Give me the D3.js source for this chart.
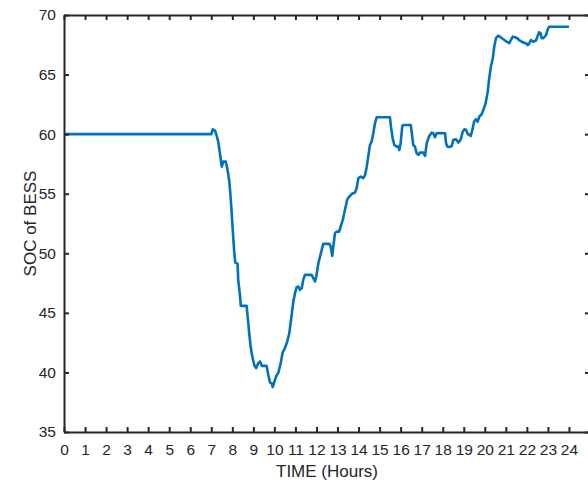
<!DOCTYPE html>
<html>
<head>
<meta charset="utf-8">
<script src="https://cdn.jsdelivr.net/npm/d3@7"></script>
<style>
  body { margin: 0; background: #fff; }
  svg { display: block; }
  text { font-family: "Liberation Sans", Arial, Helvetica, sans-serif; }
</style>
</head>
<body>
<svg width="588" height="482"></svg>
<script>
// time (hours) and state of charge
var hours = [0, 7.0, 7.07, 7.18, 7.26, 7.33, 7.41, 7.50, 7.57, 7.69, 7.76, 7.86, 7.94, 8.02, 8.09, 8.14, 8.25, 8.28, 8.37, 8.40,
  8.68, 8.73, 8.81, 8.87, 8.95, 9.04, 9.13, 9.23, 9.32, 9.40, 9.63, 9.71, 9.79, 9.87, 9.92, 9.98, 10.08, 10.19, 10.30, 10.39,
  10.50, 10.61, 10.71, 10.82, 10.90, 10.98, 11.06, 11.14, 11.22, 11.30, 11.37, 11.45, 11.77, 11.85, 11.93, 11.99, 12.09, 12.25, 12.32, 12.61,
  12.68, 12.75, 12.80, 12.88, 12.96, 13.08, 13.15, 13.25, 13.35, 13.47, 13.59, 13.72, 13.83, 13.91, 13.99, 14.10, 14.23, 14.31, 14.39, 14.46,
  14.54, 14.62, 14.70, 14.78, 14.86, 15.49, 15.54, 15.62, 15.70, 15.81, 15.89, 15.94, 16.00, 16.08, 16.13, 16.48, 16.53, 16.60, 16.68, 16.76,
  16.84, 16.92, 17.08, 17.16, 17.24, 17.36, 17.48, 17.55, 17.63, 17.71, 17.87, 18.11, 18.16, 18.22, 18.35, 18.43, 18.50, 18.63, 18.74, 18.85,
  18.95, 19.03, 19.11, 19.19, 19.33, 19.41, 19.49, 19.58, 19.66, 19.74, 19.85, 19.93, 20.04, 20.14, 20.21, 20.29, 20.38, 20.45, 20.53, 20.64,
  20.72, 20.88, 21.04, 21.16, 21.24, 21.33, 21.44, 21.54, 21.67, 21.83, 21.96, 22.04, 22.12, 22.19, 22.30, 22.42, 22.50, 22.58, 22.66, 22.70,
  22.78, 22.91, 22.99, 23.06, 24.0];

var soc = [60, 60, 60.41, 60.30, 59.85, 59.37, 58.40, 57.27, 57.69, 57.69, 57.14, 56.02, 54.20, 51.96, 50.14, 49.24, 49.11, 47.77, 46.37, 45.59,
  45.59, 44.69, 43.16, 42.17, 41.34, 40.64, 40.36, 40.78, 40.92, 40.55, 40.55, 39.80, 39.15, 39.10, 38.77, 39.10, 39.66, 39.99, 40.78, 41.67,
  42.04, 42.59, 43.30, 44.83, 45.95, 46.65, 47.16, 47.21, 46.93, 47.07, 47.77, 48.19, 48.19, 47.91, 47.63, 48.05, 49.17, 50.29, 50.79, 50.79,
  50.56, 49.78, 50.56, 51.69, 51.82, 51.82, 52.24, 52.80, 53.64, 54.56, 54.82, 55.04, 55.09, 55.46, 56.30, 56.43, 56.30, 56.58, 57.27, 58.11,
  59.09, 59.37, 60.08, 60.91, 61.42, 61.42, 60.63, 59.66, 59.09, 58.95, 58.95, 58.67, 59.24, 60.69, 60.77, 60.77, 60.08, 59.09, 58.95, 58.40,
  58.26, 58.45, 58.45, 58.17, 59.24, 59.85, 60.13, 60.08, 59.74, 60.08, 60.10, 60.08, 59.24, 58.95, 58.93, 59.01, 59.51, 59.57, 59.29, 59.51,
  60.21, 60.41, 60.35, 60.02, 59.85, 60.35, 61.05, 61.25, 61.05, 61.47, 61.67, 62.03, 62.59, 63.57, 64.69, 65.66, 66.37, 67.34, 68.05, 68.26,
  68.18, 67.96, 67.76, 67.63, 67.90, 68.18, 68.13, 68.05, 67.84, 67.68, 67.63, 67.48, 67.63, 67.90, 67.76, 67.84, 68.18, 68.55, 68.46, 68.05,
  68.05, 68.32, 68.80, 69.02, 69.02];

var xTicks = d3.range(0, 25);
var yTicks = [35, 40, 45, 50, 55, 60, 65, 70];

var svg = d3.select("svg"),
    margin = {top: 15, left: 64, bottom: 50},
    width = +svg.attr("width"),
    height = +svg.attr("height");

var x = d3.scaleLinear().domain([0, 25]).range([margin.left, 590]);
var y = d3.scaleLinear().domain([35, 70]).range([height - margin.bottom, margin.top]);

var axisColor = "#262626";

var line = d3.line()
    .x(function(d, i) { return x(hours[i]); })
    .y(function(d) { return y(d); });

svg.append("path")
    .datum(soc)
    .attr("fill", "none")
    .attr("stroke", "#0072BD")
    .attr("stroke-width", 2.6)
    .attr("stroke-linejoin", "round")
    .attr("d", line);

function styleAxis(g) {
  g.attr("font-family", null).attr("font-size", null);
  g.select(".domain").attr("stroke", axisColor).attr("stroke-width", 2);
  g.selectAll(".tick line").attr("stroke", axisColor).attr("stroke-width", 2);
  g.selectAll(".tick text")
      .attr("fill", axisColor)
      .style("font-size", "15.5px");
}

// bottom and left axes with inward ticks
svg.append("g")
    .attr("transform", "translate(0," + y(35) + ")")
    .call(d3.axisBottom(x).tickValues(xTicks).tickSizeInner(-5).tickSizeOuter(0).tickPadding(12))
    .call(styleAxis);

svg.append("g")
    .attr("transform", "translate(" + x(0) + ",0)")
    .call(d3.axisLeft(y).tickValues(yTicks).tickSizeInner(-5).tickSizeOuter(0).tickPadding(8))
    .call(styleAxis);

// box: top and right
svg.append("g")
    .attr("transform", "translate(0," + y(70) + ")")
    .call(d3.axisTop(x).tickValues(xTicks).tickSizeInner(-5).tickSizeOuter(0).tickFormat(""))
    .call(styleAxis);

svg.append("g")
    .attr("transform", "translate(" + x(25) + ",0)")
    .call(d3.axisRight(y).tickValues(yTicks).tickSizeInner(-5).tickSizeOuter(0).tickFormat(""))
    .call(styleAxis);

svg.append("text")
    .attr("x", (x(0) + x(25)) / 2)
    .attr("y", 477)
    .attr("text-anchor", "middle")
    .attr("fill", axisColor)
    .style("font-size", "17px")
    .text("TIME (Hours)");

svg.append("text")
    .attr("transform", "translate(36," + (y(35) + y(70)) / 2 + ") rotate(-90)")
    .attr("text-anchor", "middle")
    .attr("fill", axisColor)
    .style("font-size", "17px")
    .text("SOC of BESS");
</script>
</body>
</html>
